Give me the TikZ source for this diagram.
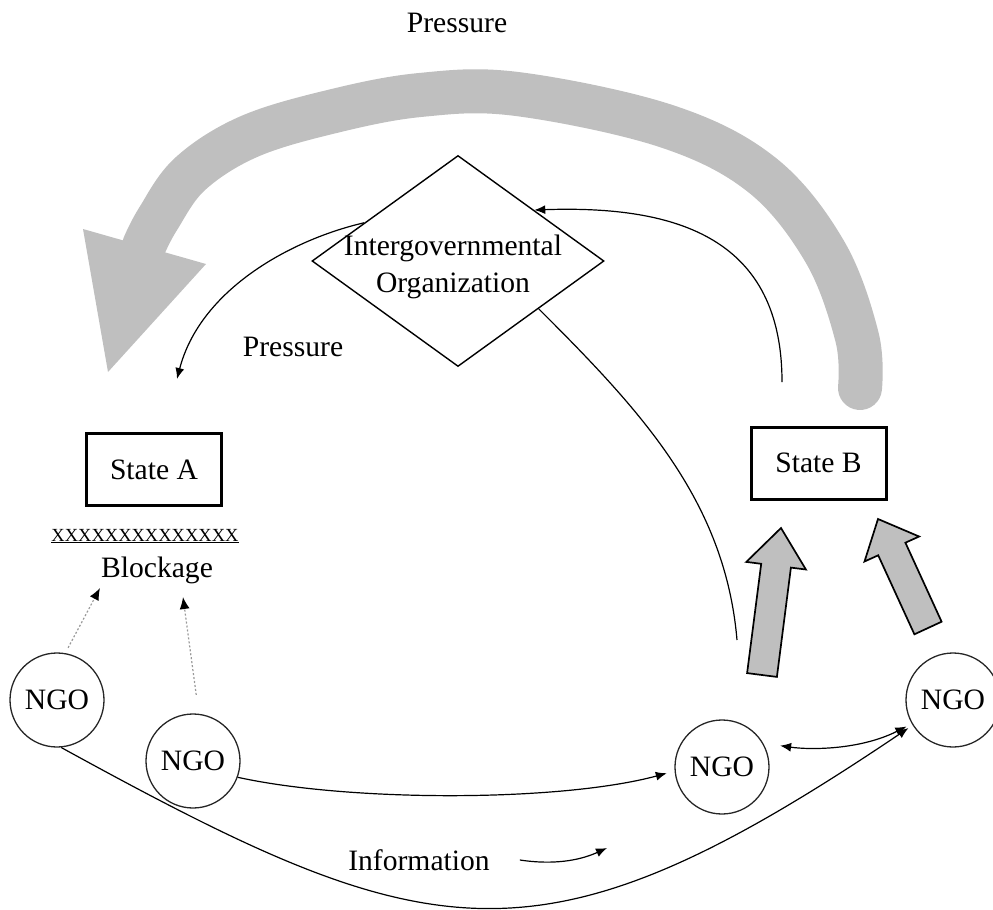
\documentclass[tikz,border=0pt]{standalone}
\usepackage{fontspec}
\setmainfont{Liberation Serif}
\usetikzlibrary{arrows.meta,shapes.geometric,calc}
\begin{document}
\begin{tikzpicture}[x=1pt,y=-1pt,
  font=\fontsize{29.6}{37}\selectfont,
  stbox/.style={draw, line width=3pt, minimum width=135pt, minimum height=72pt, inner sep=0pt},
  ngo/.style={circle, draw=black!85, line width=1.3pt, minimum size=94pt, inner sep=0pt},
  igoshape/.style={diamond, draw, line width=1.4pt, minimum width=292pt, minimum height=211pt, inner sep=0pt},
  tip/.style={-{Latex[length=11pt,width=9pt]}},
  conn/.style={line width=1.2pt, tip},
  plain/.style={line width=1.2pt},
  dotconn/.style={line width=1.2pt, draw=gray!80, dash pattern=on 2pt off 2pt, -{Latex[length=12pt,width=10pt,black]}},
  blockarrow/.style={draw, line width=1.7pt, fill=gray!50, line join=miter},
  band/.style={line width=44pt, draw=gray!50, line cap=round},
  label/.style={inner sep=0pt}
]
\useasboundingbox (0,0) rectangle (993,910);

% big pressure band
\draw[band] plot[smooth, tension=0.6] coordinates {(860,388) (857,337) (825,252) (762,175) (666,126) (517,94) (420,95) (330,112) (248,137) (190,174) (158,219) (144,246)};
\fill[gray!50] (83,229) -- (206,264) -- (108,372) -- cycle;

% nodes
\node[label] (ptop) at (457,23) {Pressure};
\node[igoshape] (igo) at (458,261) {};
\node[label, align=center] (igot) at (453,267) {Intergovernmental\\Organization};
\node[label] (pmid) at (293,347) {Pressure};
\node[stbox] (sa) at (154,469.5) {State A};
\node[stbox] (sb) at (818.5,463) {State B};
\node[label, font=\fontsize{18.5}{22}\selectfont] (xx) at (145,536) {\underline{XXXXXXXXXXXXXX}};
\node[label] (blk) at (157,570) {Blockage};
\node[ngo] (n1) at (57,700) {NGO};
\node[ngo] (n2) at (193,761) {NGO};
\node[ngo] (n3) at (722,767) {NGO};
\node[ngo] (n4) at (953,700) {NGO};
\node[label] (info) at (419,860) {Information};

% free ends
\coordinate (pa) at (177,379);
\coordinate (sbtop) at (782,382);
\coordinate (n3top) at (737,640);
\coordinate (b1) at (100,588);
\coordinate (b2) at (183,597);

% connectors
\draw[conn] ($(igo.west)!0.36!(igo.north)$) .. controls (290,240) and (200,290) .. (pa);
\draw[conn] (sbtop) .. controls (782,240) and (680,205) .. ($(igo.north)!0.52!(igo.east)$);
\draw[plain] ($(igo.east)!0.45!(igo.south)$) .. controls (640,410) and (725,500) .. (n3top);
\draw[dotconn, shorten <=6pt] (n1.80) -- (b1);
\draw[dotconn, shorten <=19pt] (n2.83) -- (b2);
\draw[conn, shorten >=8pt] (n2.-20) .. controls (350,802) and (560,802) .. (n3.185);
\draw[conn, shorten >=5pt] (n1.-85) .. controls (432,951) and (538,978) .. (n4.212);
\draw[line width=1.2pt, {Latex[length=11pt,width=9pt]}-{Latex[length=11pt,width=9pt]}, shorten <=17pt, shorten >=6pt] (n3.30) .. controls (810,750) and (860,750) .. (n4.210);
\draw[conn] ([xshift=30pt]info.east) .. controls (560,866) and (585,858) .. (607,848);

% block arrows from NGOs to State B
\draw[blockarrow] (747.1,673.1) -- (761.2,563.8) -- (746.3,561.9) -- (781,528) -- (805.9,569.5) -- (790.9,567.6) -- (776.9,676.9) -- cycle;
\draw[blockarrow] (914.4,634.3) -- (878.2,555.3) -- (864.5,561.5) -- (878,519) -- (919.1,536.5) -- (905.4,542.7) -- (941.6,621.7) -- cycle;
\end{tikzpicture}
\end{document}
